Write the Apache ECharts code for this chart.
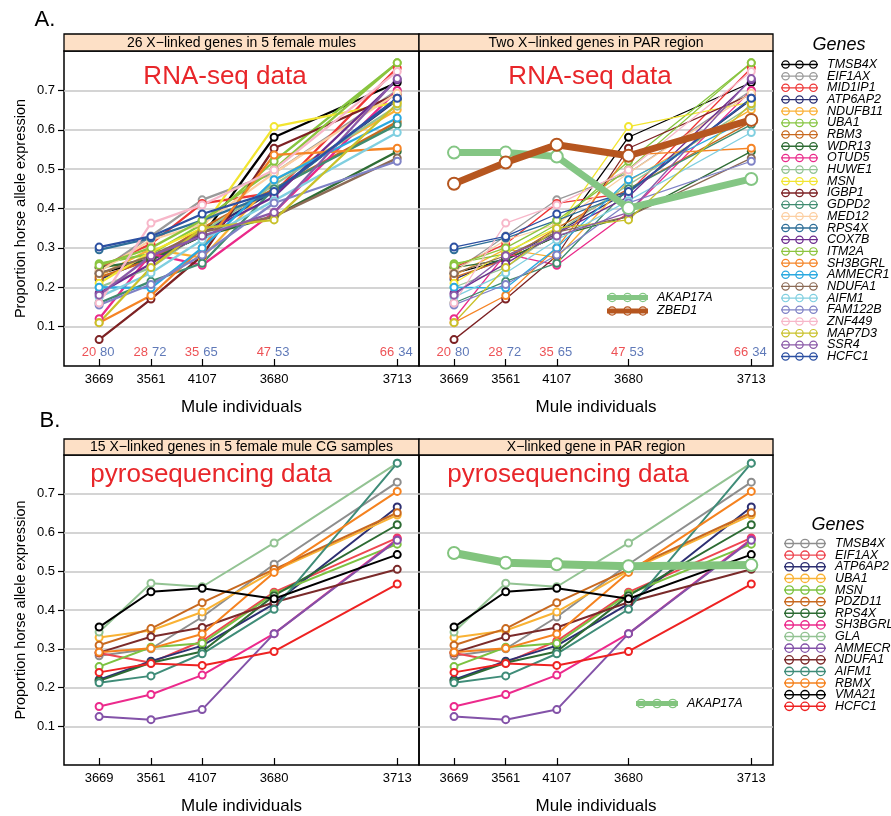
<!DOCTYPE html>
<html>
<head>
<meta charset="utf-8">
<script src="https://cdn.jsdelivr.net/npm/echarts@6/dist/echarts.min.js"></script>
<style>
  html, body { margin: 0; padding: 0; background: #fff; }
  #main { width: 891px; height: 816px; }
</style>
</head>
<body>
<div id="main"></div>
<script>
// mule individuals, placed along x by % horse allele
const muleIds = ['3669', '3561', '4107', '3680', '3713']
const muleX = [20, 28, 35.9, 47, 66]
const horsePct = ['20', '28', '35', '47', '66']
const donkeyPct = ['80', '72', '65', '53', '34']
const yTicks = [0.1, 0.2, 0.3, 0.4, 0.5, 0.6, 0.7]

// A. RNA-seq, 26 X-linked genes
const rnaGenes = ['TMSB4X', 'EIF1AX', 'MID1IP1', 'ATP6AP2', 'NDUFB11', 'UBA1', 'RBM3', 'WDR13', 'OTUD5',
  'HUWE1', 'MSN', 'IGBP1', 'GDPD2', 'MED12', 'RPS4X', 'COX7B', 'ITM2A', 'SH3BGRL', 'AMMECR1', 'NDUFA1',
  'AIFM1', 'FAM122B', 'ZNF449', 'MAP7D3', 'SSR4', 'HCFC1']
const rnaColors = ['#000000', '#9a9a9a', '#ee3636', '#2b2e72', '#fbb034', '#86c540', '#c8691f', '#2f6d35', '#ea2a8a',
  '#95c495', '#f2e530', '#7d2224', '#3f8c70', '#fccfa2', '#2f6f98', '#6c2c8e', '#8cc43e', '#f58426', '#2aa9e0', '#8c6b56',
  '#80cfe0', '#7f82c6', '#f7b7c9', '#c9c12a', '#8b5aa8', '#2c50a2']
const rnaValues = [
  [0.235, 0.27, 0.33, 0.581, 0.72],
  [0.24, 0.33, 0.422, 0.49, 0.70],
  [0.25, 0.31, 0.413, 0.44, 0.757],
  [0.22, 0.275, 0.34, 0.443, 0.676],
  [0.23, 0.297, 0.275, 0.47, 0.651],
  [0.26, 0.285, 0.36, 0.52, 0.77],
  [0.225, 0.27, 0.35, 0.45, 0.62],
  [0.25, 0.27, 0.33, 0.38, 0.545],
  [0.12, 0.285, 0.256, 0.39, 0.70],
  [0.20, 0.25, 0.34, 0.46, 0.66],
  [0.21, 0.29, 0.35, 0.608, 0.67],
  [0.067, 0.17, 0.28, 0.553, 0.69],
  [0.16, 0.215, 0.261, 0.45, 0.613],
  [0.24, 0.32, 0.36, 0.49, 0.693],
  [0.295, 0.325, 0.37, 0.44, 0.68],
  [0.185, 0.26, 0.337, 0.43, 0.727],
  [0.255, 0.30, 0.37, 0.50, 0.77],
  [0.11, 0.179, 0.30, 0.536, 0.553],
  [0.20, 0.198, 0.30, 0.473, 0.63],
  [0.235, 0.28, 0.34, 0.38, 0.528],
  [0.175, 0.236, 0.32, 0.42, 0.593],
  [0.155, 0.207, 0.282, 0.414, 0.52],
  [0.16, 0.363, 0.409, 0.498, 0.748],
  [0.11, 0.25, 0.35, 0.371, 0.666],
  [0.18, 0.28, 0.33, 0.39, 0.73],
  [0.302, 0.329, 0.386, 0.443, 0.68]
]
// PAR genes (RNA-seq)
const parGenes = ['AKAP17A', 'ZBED1']
const parColors = ['#84c684', '#b6561f']
const parValues = [
  [0.542, 0.542, 0.532, 0.401, 0.475],
  [0.463, 0.517, 0.562, 0.534, 0.625]
]

// B. pyrosequencing, 15 genes
const pyroGenes = ['TMSB4X', 'EIF1AX', 'ATP6AP2', 'UBA1', 'MSN', 'PDZD11', 'RPS4X', 'SH3BGRL', 'GLA',
  'AMMECR', 'NDUFA1', 'AIFM1', 'RBMX', 'VMA21', 'HCFC1']
const pyroColors = ['#8e8e8e', '#ee4650', '#2d2f72', '#f9b234', '#7cc241', '#c8691f', '#2d6b33', '#ec2a8c', '#93c393',
  '#8352a8', '#7a2a2a', '#3f8c78', '#f5821f', '#000000', '#ee2222']
const pyroValues = [
  [0.282, 0.30, 0.382, 0.518, 0.73],
  [0.289, 0.264, 0.32, 0.446, 0.586],
  [0.22, 0.268, 0.308, 0.416, 0.666],
  [0.329, 0.347, 0.395, 0.501, 0.645],
  [0.254, 0.304, 0.314, 0.442, 0.57],
  [0.309, 0.352, 0.419, 0.505, 0.651],
  [0.217, 0.264, 0.293, 0.437, 0.62],
  [0.151, 0.182, 0.232, 0.339, 0.583],
  [0.343, 0.469, 0.46, 0.573, 0.779],
  [0.125, 0.117, 0.143, 0.339, 0.58],
  [0.29, 0.331, 0.355, 0.42, 0.505],
  [0.212, 0.23, 0.287, 0.402, 0.779],
  [0.291, 0.301, 0.338, 0.497, 0.706],
  [0.356, 0.447, 0.456, 0.429, 0.543],
  [0.239, 0.262, 0.257, 0.293, 0.467]
]
const pyroParValues = [0.547, 0.522, 0.518, 0.513, 0.516]

const FONT = "'Liberation Sans', Arial, sans-serif"

// line with three rings, as in the lattice key
function ringIcon (bar) {
  let p = 'path://M0 ' + (5 - bar) + 'L40 ' + (5 - bar) + 'L40 ' + (5 + bar) + 'L0 ' + (5 + bar) + 'Z'
  ;[5, 20, 35].forEach(function (cx) {
    p += 'M' + (cx + 4.6) + ' 5A4.6 4.6 0 1 1 ' + (cx - 4.6) + ' 5A4.6 4.6 0 1 1 ' + (cx + 4.6) + ' 5Z'
    p += 'M' + (cx + 3.3) + ' 5A3.3 3.3 0 1 0 ' + (cx - 3.3) + ' 5A3.3 3.3 0 1 0 ' + (cx + 3.3) + ' 5Z'
  })
  return p
}

function lineSeries (name, color, vals, gi, width, size, z) {
  return {
    name: name,
    type: 'line',
    xAxisIndex: gi,
    yAxisIndex: gi,
    data: vals.map(function (v, i) { return [muleX[i], v] }),
    symbol: 'emptyCircle',
    symbolSize: size,
    z: z || 2,
    animation: false,
    lineStyle: { color: color, width: width, cap: 'round', join: 'round' },
    itemStyle: { color: color, borderWidth: width > 4 ? 2 : 1.2 },
    emphasis: { disabled: true }
  }
}

function pctSeries (gi) {
  return [horsePct, donkeyPct].map(function (labels, k) {
    return {
      type: 'scatter',
      xAxisIndex: gi,
      yAxisIndex: gi,
      symbolSize: 0,
      silent: true,
      animation: false,
      data: muleX.map(function (x, i) {
        return { value: [x, 0.034], label: { formatter: labels[i] } }
      }),
      label: {
        show: true,
        position: k === 0 ? 'left' : 'right',
        distance: k === 0 ? 3 : 1,
        color: k === 0 ? '#e8262a' : '#3757a6',
        fontSize: 13,
        fontFamily: FONT
      }
    }
  })
}

let myChart = echarts.init(document.getElementById('main'))

let grids = [
  { left: 64, top: 51, width: 355, height: 315 },
  { left: 419, top: 51, width: 354, height: 315 },
  { left: 64, top: 455, width: 355, height: 315 },
  { left: 419, top: 455, width: 354, height: 315 }
].map(function (g) {
  return Object.assign({ show: true, borderColor: '#000', borderWidth: 1.5, containLabel: false }, g)
})

let xAxes = grids.map(function (g, i) {
  return {
    type: 'value',
    gridIndex: i,
    min: 14.58,
    max: 69.36,
    name: 'Mule individuals',
    nameLocation: 'middle',
    nameGap: 33,
    nameTextStyle: { fontSize: 17, fontFamily: FONT, color: '#000' },
    axisLine: { show: false },
    splitLine: { show: false },
    axisTick: { show: true, inside: true, length: 7, customValues: muleX, lineStyle: { color: '#000', width: 1.2 } },
    axisLabel: {
      customValues: muleX,
      margin: 7,
      fontSize: 13,
      fontFamily: FONT,
      color: '#000',
      formatter: function (v) {
        let k = muleX.indexOf(v)
        return k < 0 ? '' : muleIds[k]
      }
    }
  }
})

let yAxes = grids.map(function (g, i) {
  let left = i % 2 === 0
  return {
    type: 'value',
    gridIndex: i,
    min: 0,
    max: 0.8,
    interval: 0.1,
    name: left ? 'Proportion horse allele expression' : '',
    nameLocation: 'middle',
    nameGap: 36,
    nameTextStyle: { fontSize: 14.5, fontFamily: FONT, color: '#000' },
    axisLine: { show: false },
    axisTick: { show: left, length: 6, customValues: yTicks, lineStyle: { color: '#000', width: 1.2 } },
    axisLabel: {
      show: left,
      customValues: yTicks,
      margin: 9,
      fontSize: 13,
      fontFamily: FONT,
      color: '#000',
      formatter: function (v) { return v.toFixed(1) }
    },
    splitLine: { show: true, lineStyle: { color: '#c6c6c6', width: 1.5 } }
  }
})

let series = []
// top panels
rnaGenes.forEach(function (g, i) {
  series.push(lineSeries('A:' + g, rnaColors[i], rnaValues[i], 0, 2.3, 7))
})
rnaGenes.forEach(function (g, i) {
  series.push(lineSeries('A:' + g, rnaColors[i], rnaValues[i], 1, 1.3, 7))
})
parGenes.forEach(function (g, i) {
  series.push(lineSeries('P:' + g, parColors[i], parValues[i], 1, 7, 12, 5))
})
// bottom panels
pyroGenes.forEach(function (g, i) {
  series.push(lineSeries('B:' + g, pyroColors[i], pyroValues[i], 2, 2, 7))
})
pyroGenes.forEach(function (g, i) {
  series.push(lineSeries('B:' + g, pyroColors[i], pyroValues[i], 3, 2, 7))
})
series.push(lineSeries('Q:AKAP17A', '#82c47e', pyroParValues, 3, 8, 12, 5))
series = series.concat(pctSeries(0), pctSeries(1))

function legendOf (names, prefix, colors, pos, bar, w, h, gap) {
  return Object.assign({
    orient: 'vertical',
    selectedMode: false,
    icon: ringIcon(bar),
    itemWidth: w,
    itemHeight: h,
    itemGap: gap,
    padding: 0,
    formatter: function (n) { return n.slice(2) },
    textStyle: { fontSize: 12.5, fontStyle: 'italic', fontFamily: FONT, color: '#000', padding: [0, 0, 0, 4] },
    data: names.map(function (n, i) {
      return { name: prefix + n, itemStyle: { color: colors[i], borderWidth: 0 } }
    })
  }, pos)
}

let legends = [
  legendOf(rnaGenes, 'A:', rnaColors, { left: 781, top: 58 }, 0.7, 37, 9.2, -1.32),
  legendOf(pyroGenes, 'B:', pyroColors, { left: 784, top: 537 }, 0.7, 42, 10.5, -1.37),
  legendOf(parGenes, 'P:', parColors, { left: 607, top: 291 }, 2.4, 41, 10.2, 0.5),
  legendOf(['AKAP17A'], 'Q:', ['#82c47e'], { left: 636, top: 697 }, 2.4, 42, 10.5, 0)
]

function txt (x, y, s, size, color, extra) {
  return {
    type: 'text',
    x: x,
    y: y,
    silent: true,
    style: Object.assign({ text: s, fontSize: size, fontFamily: FONT, fill: color || '#000', align: 'center', verticalAlign: 'middle' }, extra || {})
  }
}

function strip (x, y, w, h) {
  return { type: 'rect', silent: true, shape: { x: x, y: y, width: w, height: h }, style: { fill: '#fde0c6', stroke: '#000', lineWidth: 1.3 } }
}

let graphics = [
  strip(64, 34, 355, 17), strip(419, 34, 354, 17),
  strip(64, 439, 355, 16), strip(419, 439, 354, 16),
  txt(241.5, 42.8, '26 X\u2212linked genes in 5 female mules', 14),
  txt(596, 42.8, 'Two X\u2212linked genes in PAR region', 14),
  txt(241.5, 447.3, '15 X\u2212linked genes in 5 female mule CG samples', 14),
  txt(596, 447.3, 'X\u2212linked gene in PAR region', 14),
  txt(225, 77, 'RNA-seq data', 26, '#e8262a'),
  txt(590, 77, 'RNA-seq data', 26, '#e8262a'),
  txt(211, 475, 'pyrosequencing data', 26, '#e8262a'),
  txt(568, 475, 'pyrosequencing data', 26, '#e8262a'),
  txt(45, 20, 'A.', 22),
  txt(50, 421, 'B.', 22),
  txt(839, 45, 'Genes', 18, '#000', { fontStyle: 'italic' }),
  txt(838, 525, 'Genes', 18, '#000', { fontStyle: 'italic' })
]

let option = {
  backgroundColor: '#fff',
  animation: false,
  grid: grids,
  xAxis: xAxes,
  yAxis: yAxes,
  legend: legends,
  graphic: graphics,
  series: series
}
myChart.setOption(option)
window.addEventListener('resize', function () {
  myChart.resize()
})
</script>
</body>
</html>
